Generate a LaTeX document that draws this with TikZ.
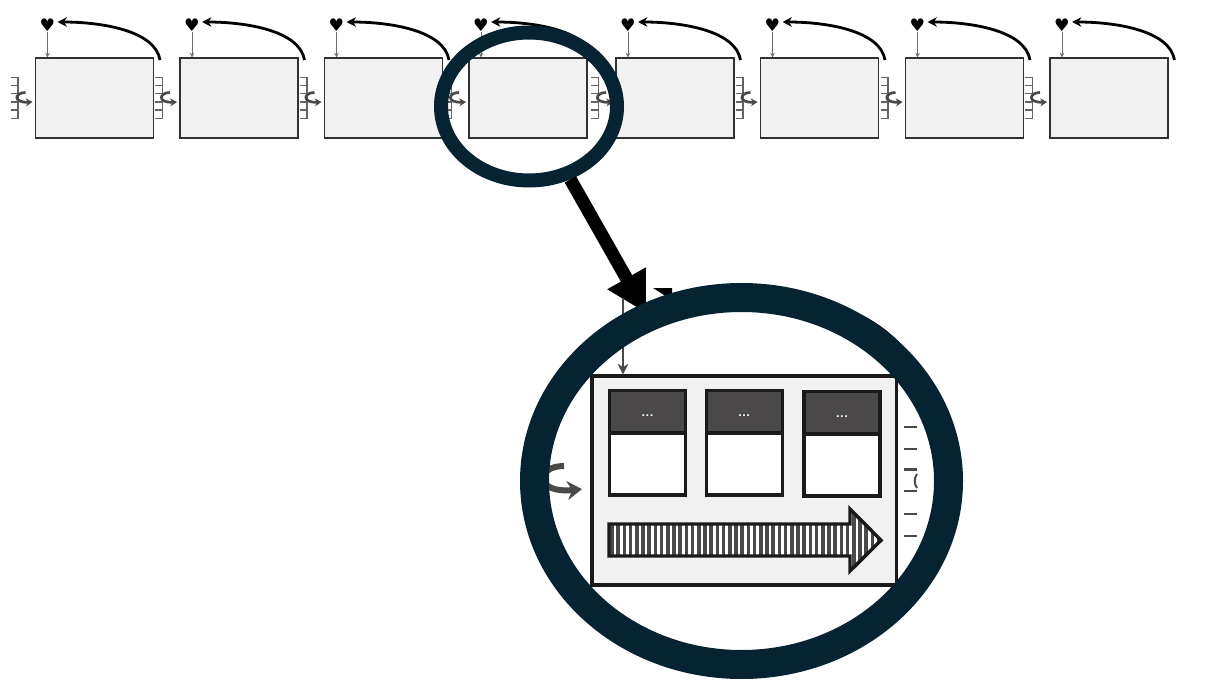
\documentclass[tikz,border=0pt]{standalone}
\usepackage{fontspec}
\usetikzlibrary{arrows.meta,shapes.geometric}
\newfontfamily\heartfont{DejaVu Sans}
\definecolor{ringblue}{HTML}{052331}
\definecolor{darkgrey}{HTML}{4A4848}
\definecolor{boxgrey}{HTML}{F1F1F1}
\definecolor{edgeblack}{HTML}{1A1A1A}
\tikzset{
  cell/.style={draw=edgeblack!90,fill=boxgrey,line width=0.85pt,inner sep=0,minimum width=88.5pt,minimum height=60pt},
  heart/.style={inner sep=0,font=\heartfont\fontsize{13}{13}\selectfont},
  feed/.style={draw=darkgrey!80,line width=0.7pt,-{Stealth[length=3.5pt,width=3.5pt]}},
  loopback/.style={line width=2.1pt,-{Stealth[length=7pt,width=7pt]}},
  comb/.style={draw=darkgrey!85,line width=0.8pt},
  curl/.style={draw=darkgrey,line width=2pt,-{Stealth[length=5pt,width=6pt]}},
  lensring/.style={ellipse,draw=ringblue,inner sep=0,line width=10.5pt,minimum width=132pt,minimum height=111pt},
  bigring/.style={ellipse,inner sep=0,line width=21.75pt,minimum width=310.5pt,minimum height=275.25pt},
  slottop/.style={draw=edgeblack,fill=darkgrey,line width=2.4pt,inner sep=0,minimum width=57pt,minimum height=32pt,
    text=white,font=\sffamily\bfseries\fontsize{10}{10}\selectfont},
  slotbody/.style={draw=edgeblack,fill=white,line width=2.4pt,inner sep=0,minimum width=57pt,minimum height=46.5pt},
}
\begin{document}
\begin{tikzpicture}[x=0.75pt,y=-0.75pt]
      \useasboundingbox (0,0) rectangle (1207,685);
      \foreach \i/\x in {1/35.5,2/180,3/324.5,4/469,5/616,6/760.5,7/905.5,8/1050}{
        \node[cell] (box\i) at (\x+59,98) {};
        \node[heart] (heart\i) at (\x+12,25) {♥};
        \coordinate (out\i) at (\x+124.5,60);
        \draw[feed] (heart\i.south) -- (heart\i.south |- box\i.north);
        \draw[loopback] (out\i) .. controls (\x+119.5,30) and (\x+64.5,22) .. (\x+22,22);
        \draw[comb] (\x-25,77.5) -- (\x-17.5,77.5) -- (\x-17.5,118.5) -- (\x-25,118.5);
        \foreach \t in {85.5,93.5,102,110}{
          \draw[comb] (\x-25,\t) -- (\x-17.5,\t);
        }
        \draw[curl] (\x-10,92.5) .. controls (\x-21,92.5) and (\x-23,103) .. (\x-3,102);
      }
      \node[lensring] (lens) at (529,106.5) {};
      \path (741.5,481) node[bigring] (lensbig) {};
      \draw[line width=9.75pt,-{Triangle[length=30pt,width=31pt]},shorten >=-7.5pt] (lens) -- (lensbig);
      \fill (653,288) -- (672,288) -- (672,300) -- cycle;
      \draw[line width=4pt] (700,302) .. controls (770,296) and (850,290) .. (903,350);
      \node[bigring,fill=white] (lensfill) at (741.5,481) {};
      \node[draw=edgeblack,fill=boxgrey,line width=2.3pt,inner sep=0,minimum width=228.4pt,minimum height=156.75pt] (panel) at (744.25,480.5) {};
      \coordinate (feedtop) at (623,298);
      \draw[draw=darkgrey,line width=1.5pt,-{Stealth[length=8pt,width=8pt]}] (feedtop) -- (feedtop |- panel.north);
      \foreach \i/\x/\y in {1/647.5/390.5,2/744.2/390.5,3/842/391.5}{
        \node[slottop] (top\i) at (\x,\y+21.5) {\raisebox{-3.5pt}[0pt][0pt]{...}};
        \node[slotbody] (body\i) at (\x,\y+73.5) {};
      }
      \begin{scope}
        \clip (609,524) -- (850,524) -- (850,509) -- (881,540.3) -- (850,571) -- (850,556) -- (609,556) -- cycle;
        \fill[white] (600,500) rectangle (890,580);
        \foreach \s in {612,618.2,...,880}{
          \draw[darkgrey,line width=2.6pt] (\s,500) -- (\s,580);
        }
      \end{scope}
      \draw[edgeblack,line width=2.6pt] (609,524) -- (850,524) -- (850,509) -- (881,540.3) -- (850,571) -- (850,556) -- (609,556) -- cycle;
      \foreach \t in {427,449,469.5,491,514,536}{
        \draw[darkgrey,line width=2.2pt] (904,\t) -- (917,\t);
      }
      \draw[darkgrey,line width=1.5pt] (917,474) .. controls (914,478) and (914,484) .. (917,488);
      \draw[darkgrey,line width=4.5pt,-{Stealth[length=11pt,width=14pt]}] (564,466) .. controls (535,466) and (535,494) .. (582,489);
      \node[bigring,draw=ringblue] (lensbigring) at (741.5,481) {};
\end{tikzpicture}
\end{document}
